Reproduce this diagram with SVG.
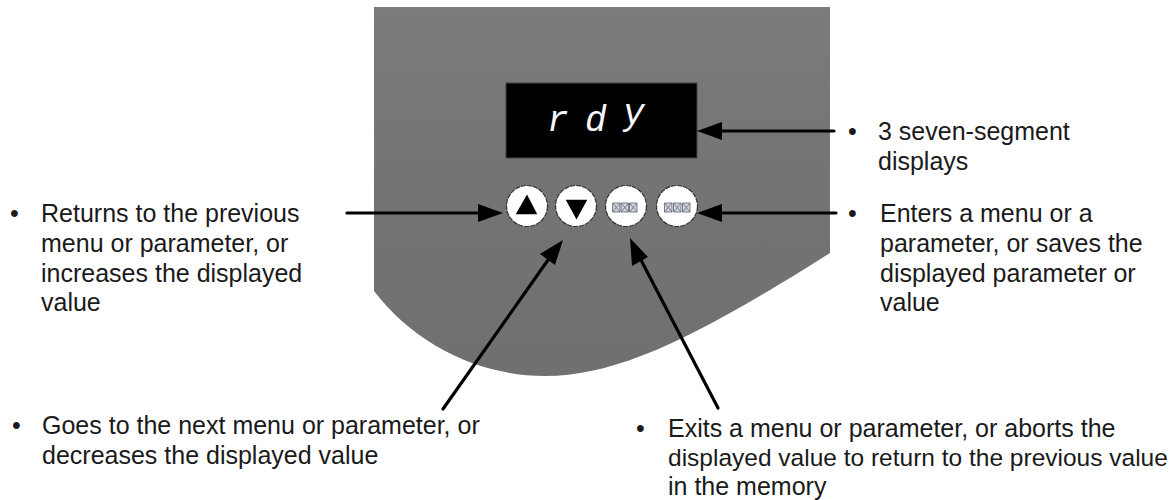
<svg xmlns="http://www.w3.org/2000/svg" width="1173" height="500" viewBox="0 0 1173 500">
<defs><linearGradient id="g" x1="0" y1="0" x2="0" y2="1"><stop offset="0" stop-color="#7b7b7b"/><stop offset=".45" stop-color="#747474"/><stop offset="1" stop-color="#707070"/></linearGradient></defs>
<style>
.t{font-family:"Liberation Sans",Arial,sans-serif;font-size:25px;fill:#1a1a1a}
.b{fill:#fff;stroke:#333;stroke-width:1.2;stroke-dasharray:5 1}
.c{stroke:#000;stroke-width:3.2;fill:none;stroke-linecap:round}
.h{fill:#000}
.x{fill:#d4d6de;stroke:#6a7080;stroke-width:.9}
.s{font-family:"Liberation Mono",monospace;font-size:36px;font-style:italic;fill:#f4f6fa}
</style>
<rect width="1173" height="500" fill="#fff"/>
<g id="panel">
<path d="M374 7H830V253C700 335 620 376 545 376C480 376 415 345 374 291Z" fill="url(#g)"/>
</g>
<g id="display">
<rect x="506" y="83" width="191" height="75" fill="#000" stroke="#444" stroke-width="1"/>
<text class="s" x="547" y="131">r</text>
<text class="s" x="585" y="131">d</text>
<text class="s" x="623" y="124">y</text>
</g>
<g id="btn-up">
<circle cx="527" cy="206" r="20.5" class="b"/>
<path d="M527 196L536 213.500H517Z" class="h" stroke="#000" stroke-width="1.500"/>
</g>
<g id="btn-down">
<circle cx="576" cy="206" r="20.500" class="b"/>
<path d="M567 200.500H586L576.500 218Z" class="h" stroke="#000" stroke-width="1.500"/>
</g>
<g id="btn-esc">
<circle cx="626" cy="206" r="20.500" class="b"/>
<g class="x"><path d="M612.500 203h7.500v9h-7.500zM612.500 203l7.500 9M620 203l-7.500 9M621 203h7.500v9h-7.500zM621 203l7.500 9M628.500 203l-7.500 9M629.500 203h7.500v9h-7.500zM629.500 203l7.500 9M637 203l-7.500 9"/></g>
</g>
<g id="btn-ent">
<circle cx="677" cy="206" r="20.500" class="b"/>
<g class="x"><path d="M664.500 203h7.500v9h-7.500zM664.500 203l7.500 9M672 203l-7.500 9M673.500 203h7.500v9h-7.500zM673.500 203l7.500 9M681 203l-7.500 9M682.500 203h7.500v9h-7.500zM682.500 203l7.500 9M690 203l-7.500 9"/></g>
</g>
<g id="connectors">
<path class="c" d="M834 131H720"/><path class="h" d="M697 131L722 122V140Z"/>
<path class="c" d="M347 213H480"/><path class="h" d="M503 213L478 204V222Z"/>
<path class="c" d="M836 213H720"/><path class="h" d="M697 213L722 204V222Z"/>
<path class="c" d="M443 409L548 260"/><path class="h" d="M563 240L555 265L540 254Z"/>
<path class="c" d="M718 408L641 260"/><path class="h" d="M630 238L648 257L632 266Z"/>
</g>
<g id="label-display"><text class="t" x="848" y="140">•</text><text class="t" x="878" y="140">3 seven-segment</text><text class="t" x="878" y="170">displays</text></g>
<g id="label-up"><text class="t" x="10" y="222">•</text><text class="t" x="41" y="222">Returns to the previous</text><text class="t" x="41" y="252">menu or parameter, or</text><text class="t" x="41" y="282">increases the displayed</text><text class="t" x="41" y="311">value</text></g>
<g id="label-ent"><text class="t" x="848" y="222">•</text><text class="t" x="880" y="222">Enters a menu or a</text><text class="t" x="880" y="252">parameter, or saves the</text><text class="t" x="880" y="282">displayed parameter or</text><text class="t" x="880" y="311">value</text></g>
<g id="label-down"><text class="t" x="12" y="434">•</text><text class="t" x="42" y="434">Goes to the next menu or parameter, or</text><text class="t" x="42" y="464">decreases the displayed value</text></g>
<g id="label-esc"><text class="t" x="636" y="437">•</text><text class="t" x="668" y="437">Exits a menu or parameter, or aborts the</text><text class="t" x="668" y="466" style="font-size:24.500px">displayed value to return to the previous value</text><text class="t" x="668" y="495">in the memory</text></g>
</svg>
